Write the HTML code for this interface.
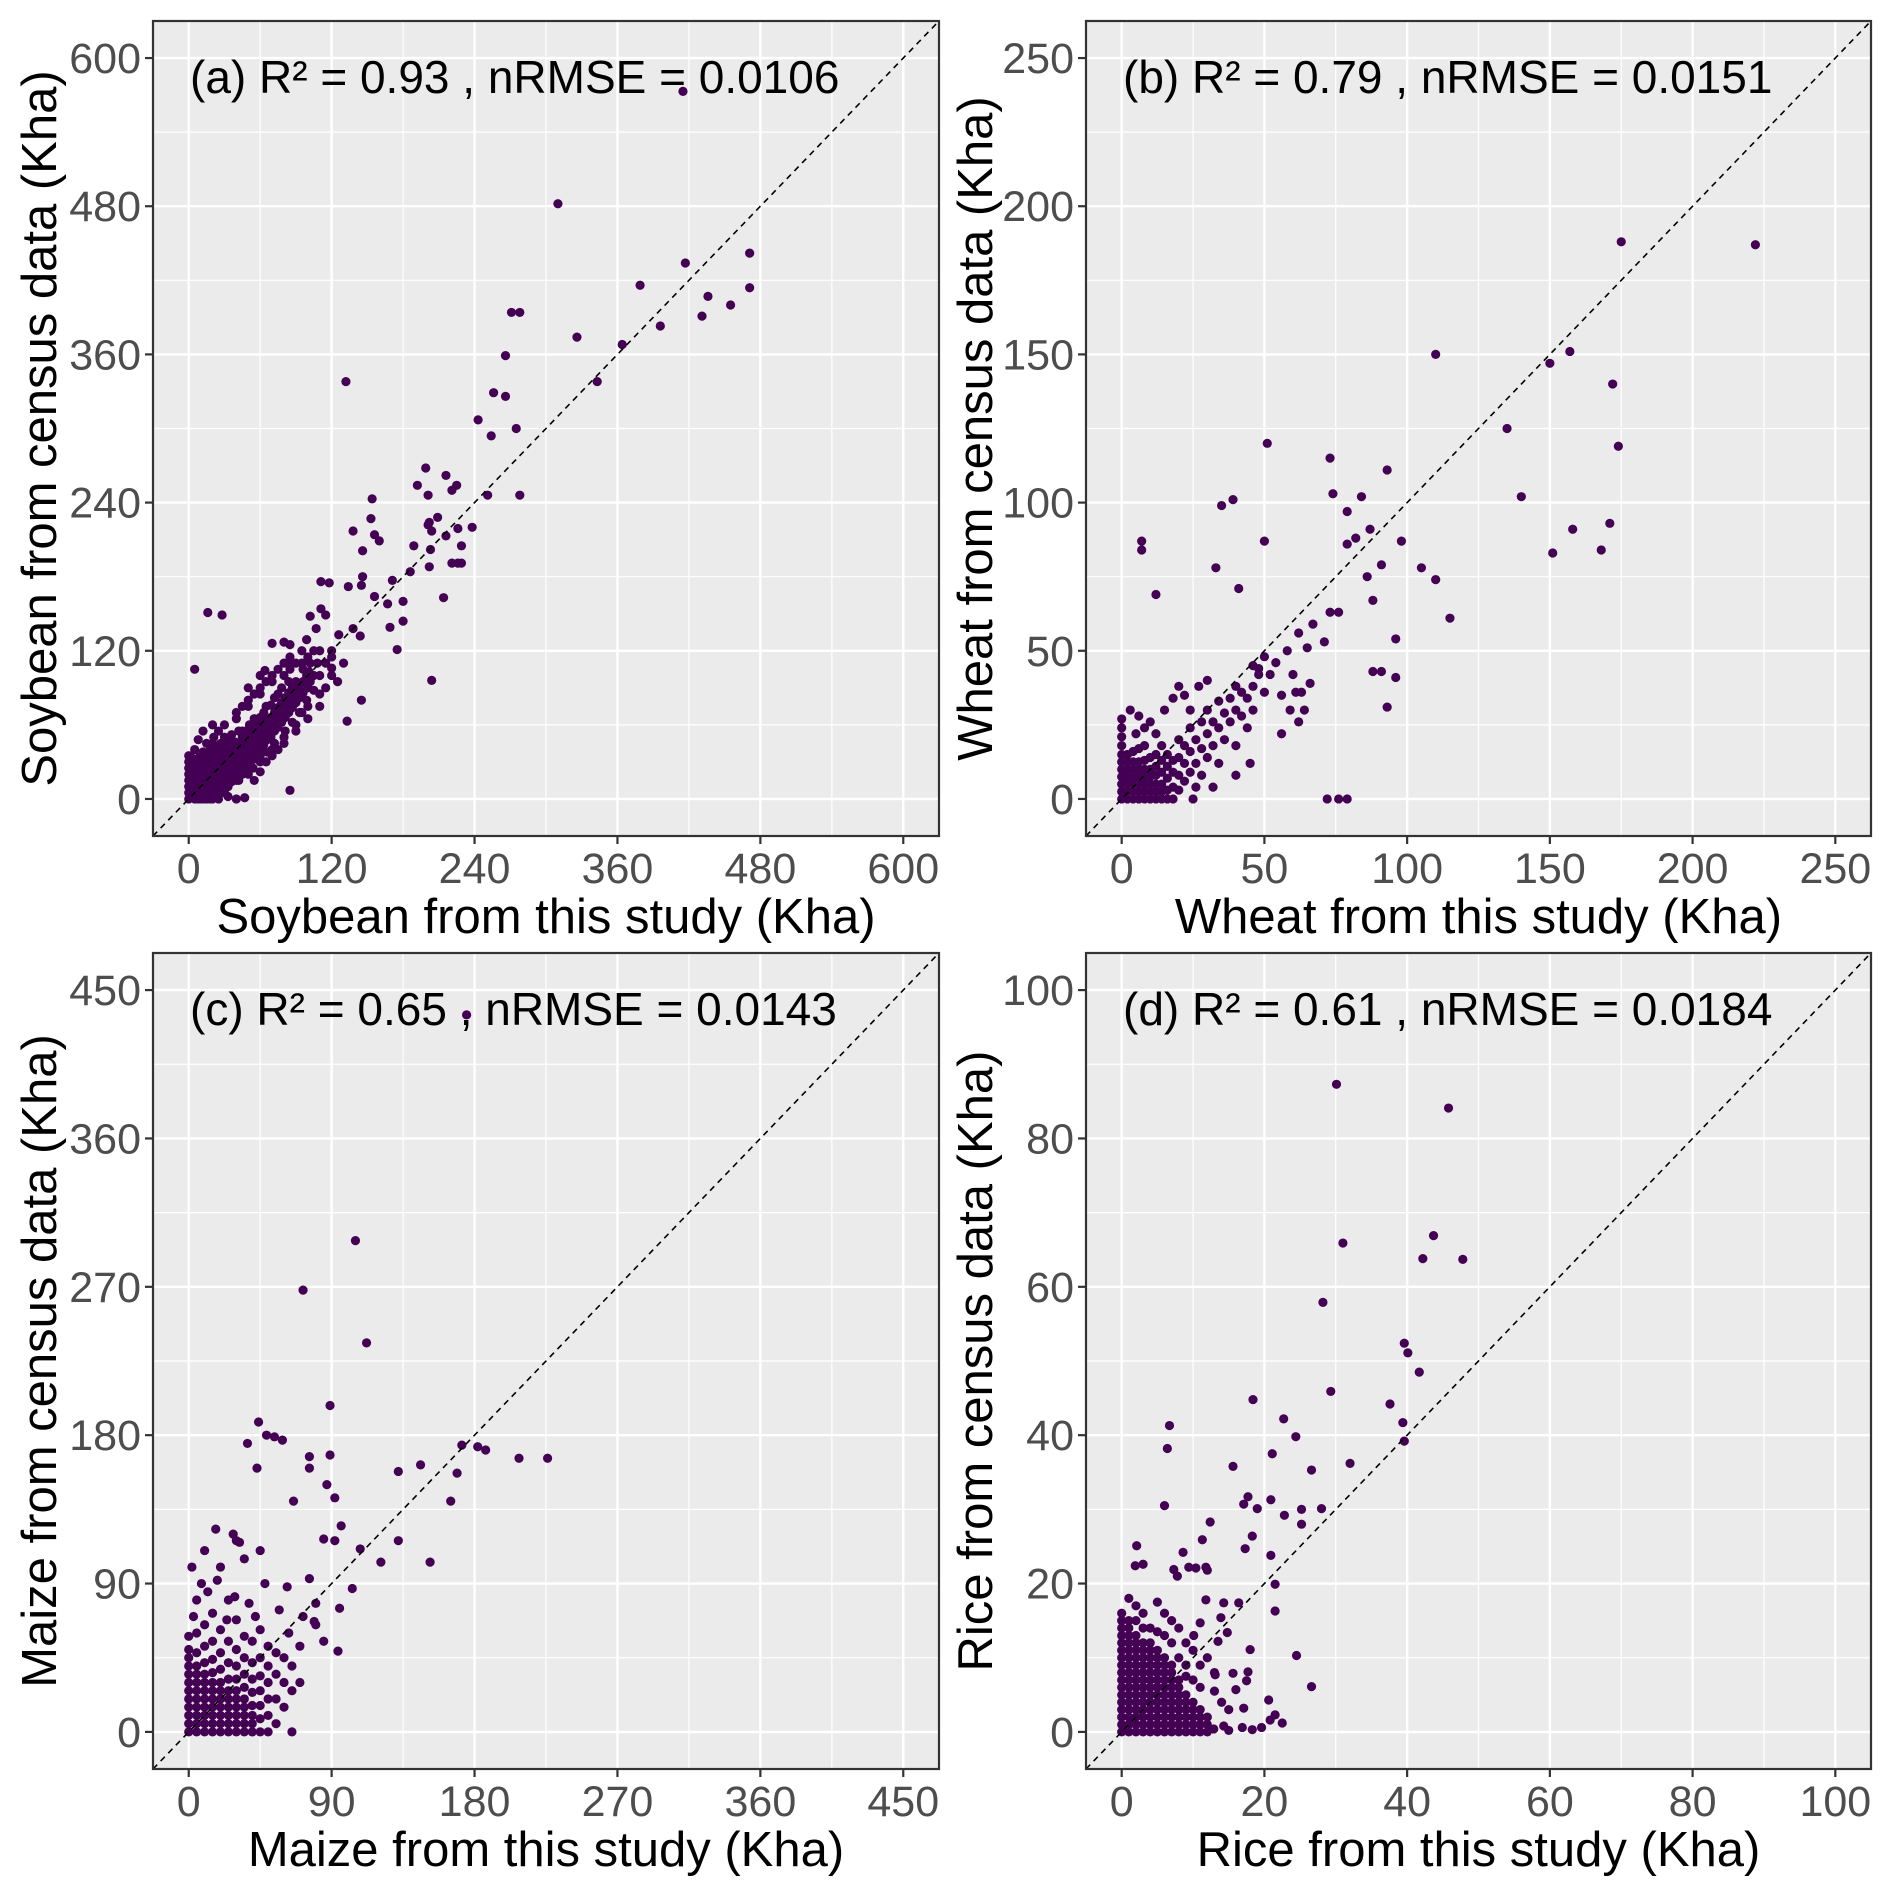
<!DOCTYPE html>
<html><head><meta charset="utf-8"><style>
html,body{margin:0;padding:0;background:#fff;}
svg{display:block;font-family:"Liberation Sans",Arial,sans-serif;}
</style></head><body>
<svg id="fig" width="1892" height="1888" viewBox="0 0 1892 1888" xmlns="http://www.w3.org/2000/svg"></svg>
<script>
// ---- data (x = this study, y = census), flat [x,y,...] pairs ----
const soyTicks = [0,120,240,360,480,600];
const wheatTicks = [0,50,100,150,200,250];
const maizeTicks = [0,90,180,270,360,450];
const riceTicks = [0,20,40,60,80,100];
const annotations = ["(a) R\u00B2 = 0.93 , nRMSE = 0.0106","(b) R\u00B2 = 0.79 , nRMSE = 0.0151","(c) R\u00B2 = 0.65 , nRMSE = 0.0143","(d) R\u00B2 = 0.61 , nRMSE = 0.0184"];
const xTitles = ["Soybean from this study (Kha)","Wheat from this study (Kha)","Maize from this study (Kha)","Rice from this study (Kha)"];
const yTitles = ["Soybean from census data (Kha)","Wheat from census data (Kha)","Maize from census data (Kha)","Rice from census data (Kha)"];

const soyPts = [415,573,310,482,417,434,471,442,471,414,379,416,436,407,431,391,455,400,396,383,326,374,364,368,343,338,271,394,278,394,266,359,132,338,256,329,266,326,243,307,254,294,275,300,199,268,216,262,192,254,201,246,221,250,225,254,154,243,251,246,278,246,209,228,202,224,201,222,204,217,238,220,138,217,153,227,156,214,160,209,226,219,216,213,226,191,229,205,229,191,221,191,203,202,202,188,189,205,146,201,214,163,204,96,175,121,145,80,133,63,16,151,28,149,5,105,85,7,47,1,
111,176,118,175,134,172,146,180,145,173,171,177,156,164,169,139,180,144,167,158,186,184,180,160,138,138,144,132,111,154,102,148,115,149,126,133,107,138,99,129,101,103,120,106,86,110,80,127,70,126,64,104,
0,0,0,5,0,10,0,15,0,20,0,25,0,30,0,35,3,2,5,0,8,0,10,0,12,0,15,0,18,0,20,0,25,0,3,8,3,14,3,20,3,27,3,33,6,5,6,11,6,17,6,23,6,30,9,3,9,9,9,15,9,21,9,27,9,34,12,6,12,12,12,18,12,24,12,30,12,38,15,4,15,10,15,16,15,22,15,28,15,35,15,45,18,8,18,14,18,20,18,26,18,32,18,40,21,3,21,11,21,17,21,23,21,29,21,36,21,50,24,6,24,14,24,20,24,26,24,32,24,40,27,10,27,17,27,23,27,30,27,37,27,45,30,5,30,13,30,20,30,27,30,34,30,42,33,10,33,17,33,24,33,31,33,38,33,48,36,14,36,21,36,28,36,35,36,42,36,52,39,18,39,25,39,32,39,39,39,46,42,15,42,22,42,29,42,36,42,44,42,55,45,20,45,27,45,34,45,41,45,50,48,24,48,31,48,38,48,45,48,55,51,28,51,35,51,42,51,50,51,60,54,25,54,32,54,40,54,48,54,56,57,36,57,44,57,52,57,62,60,30,60,40,60,48,60,56,60,66,63,44,63,52,63,60,63,70,66,38,66,48,66,56,66,64,69,50,69,58,69,66,69,76,72,45,72,55,72,62,72,70,72,82,75,58,75,66,75,74,75,85,78,62,78,70,78,78,78,90,81,55,81,66,81,74,81,82,84,70,84,78,84,86,84,95,87,62,87,74,87,82,87,90,90,78,90,86,90,95,93,70,93,82,93,90,96,86,96,95,96,105,99,80,99,92,99,100,102,95,102,110,105,88,105,100,108,110,
30,50,20,60,25,55,50,20,55,15,60,22,65,30,70,35,75,40,80,45,90,60,95,70,40,70,45,75,50,80,55,85,60,90,65,95,70,100,75,105,80,110,85,115,100,75,110,85,115,90,120,100,125,95,130,110,120,120,110,120,95,120,85,125,60,100,50,90,40,0,33,2,8,48,12,55,5,40,
20,45,30,60,40,65,50,75,60,85,70,95,80,100,90,110,100,115,40,15,50,25,60,35,70,40,80,50,90,55,100,65,110,75,45,55,55,65,65,75,85,105,95,110,100,90,110,100,115,110,120,115,105,120];

const wheatPts = [222,187,175,188,110,150,157,151,150,147,172,140,135,125,174,119,140,102,158,91,171,93,168,84,151,83,51,120,73,115,93,111,74,103,84,102,79,97,35,99,39,101,87,91,79,86,82,88,98,87,50,87,105,78,110,74,91,79,86,75,88,67,115,61,96,54,91,43,88,43,96,41,93,31,72,0,76,0,79,0,67,59,73,63,71,53,65,51,76,63,7,87,7,84,12,69,33,78,41,71,61,36,63,36,66,39,59,30,62,26,56,22,50,48,46,45,48,42,
0,0,0,2.5,0,5,0,7.5,0,10,0,12.5,0,15,0,18,0,21,0,24,0,27,2,0,2,2.5,2,5,2,7.5,2,10,2,12.5,2,15,4,0,4,2.5,4,5,4,7.5,4,10,4,12.5,4,16,6,0,6,2.5,6,5,6,7.5,6,10,6,12.5,6,17,8,0,8,2.5,8,5,8,7.5,8,10,8,13,8,18,10,0,10,2.5,10,5,10,7.5,10,10,10,14,12,0,12,2.5,12,5,12,8,12,11,12,15,14,0,14,2.5,14,5,14,9,14,13,16,0,16,3,16,7,16,11,18,0,18,4,18,9,
16,15,18,13,20,3,20,8,20,14,20,20,22,6,22,12,22,18,24,9,24,16,24,24,26,4,26,12,26,20,28,8,28,17,28,26,30,14,30,22,30,30,32,18,32,26,34,12,34,24,34,33,36,20,36,29,38,26,38,34,40,18,40,30,40,38,42,28,42,36,44,24,44,34,46,38,46,30,48,44,50,36,52,42,54,46,56,35,58,50,60,42,62,56,64,30,5,22,8,24,10,26,3,30,6,28,15,30,18,34,22,35,12,22,20,38,25,0,32,4,40,8,45,12,14,18,24,30,27,38,30,40];

const maizePts = [105,298,72,268,112,236,89,198,44,188,49,180,54,179,37,175,59,177,43,160,76,167,76,160,89,168,66,140,87,150,92,142,96,125,92,116,85,117,132,158,146,162,172,174,182,173,187,171,208,166,226,166,169,157,165,140,132,116,152,103,121,103,108,111,103,87,95,75,94,49,76,93,80,78,79,67,57,74,63,60,2,100,17,123,32,115,29,82,30,116,175,435,
0,0,0,5,0,10,0,15,0,20,0,25,0,30,0,35,0,40,0,45,0,50,0,58,5,0,5,5,5,10,5,15,5,20,5,25,5,30,5,35,5,40,5,48,5,60,10,0,10,5,10,10,10,15,10,20,10,25,10,30,10,35,10,42,10,52,10,65,15,0,15,5,15,10,15,15,15,20,15,25,15,30,15,36,15,44,15,55,15,72,20,0,20,5,20,10,20,15,20,20,20,25,20,30,20,38,20,48,20,62,25,0,25,5,25,10,25,15,25,20,25,25,25,32,25,42,25,55,25,80,30,0,30,5,30,10,30,15,30,20,30,25,30,32,30,40,30,50,30,68,35,0,35,5,35,10,35,15,35,20,35,27,35,35,35,45,35,58,40,0,40,5,40,10,40,16,40,24,40,32,40,42,40,55,45,0,45,8,45,16,45,25,45,34,45,45,45,62,50,0,50,10,50,20,50,30,50,40,50,52,55,5,55,20,55,35,55,48,60,15,60,30,60,45,65,0,65,25,65,40,70,30,70,52,
10,110,20,100,28,120,35,105,8,90,5,80,12,85,45,110,48,90,62,88,72,70,80,65,85,55,3,70,18,92,24,68,38,78,42,70];

const ricePts = [30.1,87.3,45.8,84.1,31.0,65.9,43.7,66.9,42.2,63.8,47.8,63.7,28.2,57.9,39.6,52.4,40.1,51.1,41.7,48.5,29.3,45.9,18.4,44.8,37.6,44.2,22.7,42.2,39.4,41.7,39.6,39.2,24.4,39.8,6.7,41.3,6.4,38.2,21.1,37.5,32.0,36.2,26.6,35.3,15.6,35.8,17.7,31.7,17.1,30.7,20.9,31.3,19,30.1,6.0,30.5,25.2,30.0,28,30.1,22.8,29.2,25.2,28.0,18.3,26.4,17.3,24.7,20.9,23.8,21.5,19.9,21.5,16.3,24.5,10.3,26.6,6.1,12.4,28.3,11.3,25.9,2.1,25.1,1.9,22.4,3.0,22.6,7.3,21.9,7.8,21.0,8.6,24.2,9.4,22.2,10.4,22.1,11.8,22.2,12,21.8,
16.9,0.6,18.3,0.3,19.6,0.6,20.8,1.6,21.5,2.3,22.5,1.2,20.6,4.3,17.1,3.2,14.3,0.8,12.9,0.4,15,0.2,16,5.7,17.5,6.9,17.7,8.1,18,11.1,16.4,17.4,14.3,17.4,13.9,15.4,13.1,7.7,13.5,12.2,15.6,7.9,14.8,13.4,11.8,17.8,11,14.7,10.1,13,
0,0,0,1,0,2,0,3,0,4,0,5,0,6,0,7,0,8,0,9,0,10,0,11,0,12,0,13,0,14,0,15,0,16,1,0,1,1,1,2,1,3,1,4,1,5,1,6,1,7,1,8,1,9,1,10,1,11,1,12,1,13,1,14,1,15,2,0,2,1,2,2,2,3,2,4,2,5,2,6,2,7,2,8,2,9,2,10,2,11,2,12,2,13,3,0,3,1,3,2,3,3,3,4,3,5,3,6,3,7,3,8,3,9,3,10,3,11,3,12,4,0,4,1,4,2,4,3,4,4,4,5,4,6,4,7,4,8,4,9,4,10,4,11,4,12,5,0,5,1,5,2,5,3,5,4,5,5,5,6,5,7,5,8,5,9,5,10,5,11,6,0,6,1,6,2,6,3,6,4,6,5,6,6,6,7,6,8,6,9,6,10,7,0,7,1,7,2,7,3,7,4,7,5,7,6,7,7,7,8,7,9,8,0,8,1,8,2,8,3,8,4,8,5,8,6,8,7,9,0,9,1,9,2,9,3,9,4,9,5,10,0,10,1,10,2,10,3,10,4,11,0,11,1,11,2,11,3,12,0,12,1,12,2,
2,17,3,16,5,17.5,6,16,7,15,8,14,9,12,10,11,4,14,1,18,12,10,13,8,11,6,14,4,15,3,9,9,10,7,8,10,6,13,3,14,5,13.5,7,12,2,15,9,7.5,11,9,13,5.5];

// ---- layout ----
const NS = "http://www.w3.org/2000/svg";
const svg = document.getElementById('fig');
const panels = [
  {L:153,R:939,T:21,B:836,lo:-30,hi:630,ticks:soyTicks,pts:soyPts,id:'soybean',ytx:39},
  {L:1086,R:1871,T:21,B:836,lo:-12.5,hi:262.5,ticks:wheatTicks,pts:wheatPts,id:'wheat',ytx:975},
  {L:153,R:939,T:953,B:1769,lo:-22.5,hi:472.5,ticks:maizeTicks,pts:maizePts,id:'maize',ytx:39},
  {L:1086,R:1871,T:953,B:1769,lo:-5,hi:105,ticks:riceTicks,pts:ricePts,id:'rice',ytx:975}
];
function mk(tag, attrs, parent){
  const el = document.createElementNS(NS, tag);
  for (const k in attrs) el.setAttribute(k, attrs[k]);
  parent.appendChild(el);
  return el;
}
panels.forEach((p, i) => {
  const g = mk('g', {}, svg);
  
  
  const sx = v => p.L + (v - p.lo) / (p.hi - p.lo) * (p.R - p.L);
  const sy = v => p.B - (v - p.lo) / (p.hi - p.lo) * (p.B - p.T);
  const bg = mk('rect', {x:p.L, y:p.T, width:p.R-p.L, height:p.B-p.T, fill:'#ebebeb'}, g);
  
  
  const step = p.ticks[1] - p.ticks[0];
  for (let k = 0; k < p.ticks.length; k++) {
    const m = p.ticks[k] + step / 2;
    if (m < p.hi) {
      const gx = mk('line', {x1:sx(m), x2:sx(m), y1:p.T, y2:p.B, stroke:'#fff', 'stroke-width':1.2}, g);
      
      
      const gy = mk('line', {x1:p.L, x2:p.R, y1:sy(m), y2:sy(m), stroke:'#fff', 'stroke-width':1.2}, g);
      
      
    }
  }
  p.ticks.forEach(t => {
    const gx = mk('line', {x1:sx(t), x2:sx(t), y1:p.T, y2:p.B, stroke:'#fff', 'stroke-width':2.4}, g);
    
    
    const gy = mk('line', {x1:p.L, x2:p.R, y1:sy(t), y2:sy(t), stroke:'#fff', 'stroke-width':2.4}, g);
    
    
    const tx = mk('line', {x1:sx(t), x2:sx(t), y1:p.B, y2:p.B+8, stroke:'#333', 'stroke-width':2.2}, g);
    
    
    const ty = mk('line', {x1:p.L-8, x2:p.L, y1:sy(t), y2:sy(t), stroke:'#333', 'stroke-width':2.2}, g);
    
    
    const lx = mk('text', {x:sx(t), y:p.B+47, 'text-anchor':'middle', 'font-size':43, fill:'#4d4d4d'}, g);
    lx.textContent = String(t);
    
    
    const ly = mk('text', {x:p.L-12, y:sy(t)+15, 'text-anchor':'end', 'font-size':43, fill:'#4d4d4d'}, g);
    ly.textContent = String(t);
    
    
  });
  const pg = mk('g', {fill:'#440154'}, g);
  
  
  for (let k = 0; k + 1 < p.pts.length; k += 2) {
    const c = mk('circle', {cx:sx(p.pts[k]), cy:sy(p.pts[k+1]), r:4.6}, pg);
    
    
  }
  const dl = mk('line', {x1:sx(p.lo), y1:sy(p.lo), x2:sx(p.hi), y2:sy(p.hi), stroke:'#000', 'stroke-width':1.6, 'stroke-dasharray':'6,5'}, g);
  
  
  const br = mk('rect', {x:p.L, y:p.T, width:p.R-p.L, height:p.B-p.T, fill:'none', stroke:'#333', 'stroke-width':2.2}, g);
  
  
  const an = mk('text', {x:p.L+37, y:p.T+72, 'font-size':46, fill:'#000'}, g);
  an.textContent = annotations[i];
  
  
  const xt = mk('text', {x:(p.L+p.R)/2, y:p.B+97, 'text-anchor':'middle', 'font-size':49, fill:'#000'}, g);
  xt.textContent = xTitles[i];
  
  
  const cy = (p.T+p.B)/2;
  const yt = mk('text', {x:p.ytx+17, y:cy, 'text-anchor':'middle', 'font-size':49, fill:'#000', transform:'rotate(-90 '+(p.ytx+17)+' '+cy+')'}, g);
  yt.textContent = yTitles[i];
  
  
});
</script>
</body></html>
